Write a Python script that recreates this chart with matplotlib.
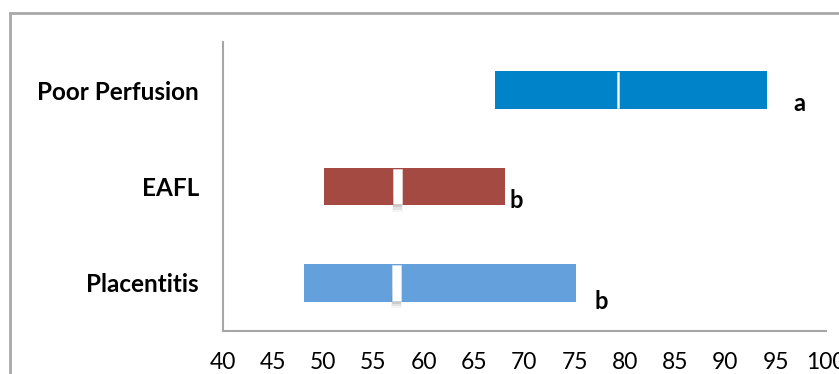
import matplotlib
matplotlib.use("Agg")
import matplotlib.pyplot as plt
from matplotlib.patches import Rectangle

# Ranges per placental lesion category (bottom to top)
categories = ["Placentitis", "EAFL", "Poor Perfusion"]
range_low = [48.1, 50.1, 67.1]
range_high = [75.1, 68.1, 94.1]
medians = [57.3, 57.4, 79.3]
group_letters = ["b", "b", "a"]
tick_values = [40, 45, 50, 55, 60, 65, 70, 75, 80, 85, 90, 95, 100]

colors = ["#63A0DC", "#A54A42", "#0083C9"]
median_widths = [0.8, 0.8, 0.25]
letter_dx = [2.6, 1.1, 3.3]
letter_dy = [-0.19, -0.15, -0.14]

plt.rcParams["font.family"] = ["Lato", "DejaVu Sans"]

fig = plt.figure(figsize=(8.39, 3.74), dpi=100)
ax = fig.add_axes([222.5 / 839, 1 - 331 / 374, (826 - 222.5) / 839, (331 - 42) / 374])

# Outer chart frame (extends past the right and bottom edges)
fig.patches.append(Rectangle((10 / 839, -0.2), 1.2, 1 - 13 / 374 + 0.2,
                             transform=fig.transFigure, fill=False,
                             edgecolor="#A8A8A8", linewidth=2.0, zorder=0))

bar_h = 0.39
ypos = list(range(len(categories)))
for y, lo, hi, med, col, mw, lt, dx, dy in zip(ypos, range_low, range_high, medians,
                                                colors, median_widths, group_letters,
                                                letter_dx, letter_dy):
    ax.barh(y, hi - lo, left=lo, height=bar_h, color=col, zorder=2)
    # soft shadow under the median marker
    if mw > 0.5:
        for k, a in enumerate([0.10, 0.07, 0.04]):
            ax.add_patch(Rectangle((med - mw / 2 - 0.05 * k, y - bar_h / 2 - 0.02 - 0.025 * k),
                                   mw + 0.1 * k, bar_h * 0.35,
                                   facecolor="black", alpha=a, linewidth=0, zorder=2.5))
    ax.add_patch(Rectangle((med - mw / 2, y - bar_h / 2 + 0.01), mw, bar_h - 0.02,
                           facecolor="white", edgecolor="#E6E6E6", linewidth=0.4, zorder=3))
    ax.text(hi + dx, y + dy, lt, ha="center", va="center", fontsize=17,
            fontweight="bold", color="black")

ax.set_xlim(40, 100)
ax.set_ylim(-0.5, 2.5)
ax.set_xticks(tick_values)
ax.set_xticklabels([str(v) for v in tick_values], fontsize=16.5)
ax.set_yticks(ypos)
ax.set_yticklabels(categories, fontsize=17.5, fontweight="bold")
ax.tick_params(axis="both", length=0)
ax.tick_params(axis="x", pad=15)
ax.tick_params(axis="y", pad=17)

for s in ["top", "right"]:
    ax.spines[s].set_visible(False)
for s in ["left", "bottom"]:
    ax.spines[s].set_color("#A6A6A6")
    ax.spines[s].set_linewidth(1.5)

fig.savefig("out.png", dpi=100)
